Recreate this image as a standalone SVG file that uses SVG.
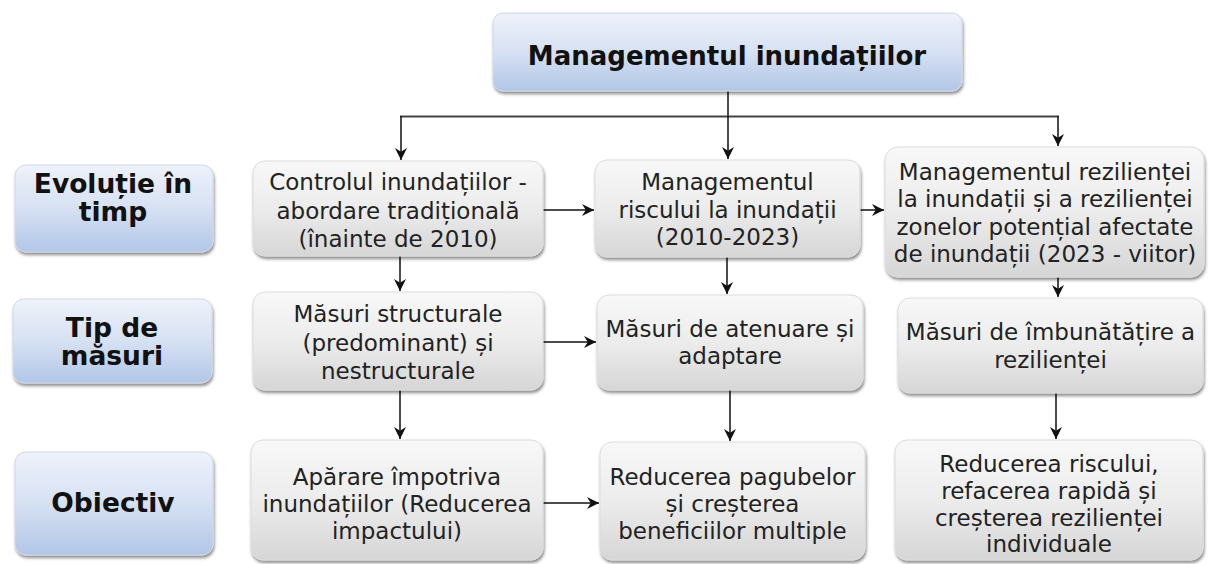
<svg xmlns="http://www.w3.org/2000/svg" width="1210" height="564" viewBox="0 0 1210 564">
<defs>
<linearGradient id="gBlue" x1="0" y1="0" x2="0" y2="1">
<stop offset="0" stop-color="#eef2fa"/>
<stop offset="0.5" stop-color="#d6e1f3"/>
<stop offset="1" stop-color="#b2c6e7"/>
</linearGradient>
<linearGradient id="gGray" x1="0" y1="0" x2="0" y2="1">
<stop offset="0" stop-color="#f8f8f8"/>
<stop offset="0.5" stop-color="#ececec"/>
<stop offset="1" stop-color="#d6d6d6"/>
</linearGradient>
<filter id="sh" x="-10%" y="-10%" width="120%" height="130%">
<feDropShadow dx="1" dy="2.5" stdDeviation="1.8" flood-color="#000" flood-opacity="0.45"/>
</filter>
<marker id="ar" markerUnits="userSpaceOnUse" markerWidth="13" markerHeight="13" refX="12" refY="6.5" orient="auto">
<path d="M0,0.5 L12,6.5 L0,12.5 L3.8,6.5 z" fill="#111"/>
</marker>
</defs>
<style>
.blue{fill:url(#gBlue);stroke:#d0d8e6;stroke-width:1;filter:url(#sh)}
.gray{fill:url(#gGray);stroke:#dcdcdc;stroke-width:1;filter:url(#sh)}
.tb{font-family:"DejaVu Sans",Verdana,sans-serif;font-weight:bold;font-size:26.5px;fill:#111;text-anchor:middle}
.tt{font-size:26px}
.t{font-family:"DejaVu Sans",Verdana,sans-serif;font-size:23px;fill:#222;text-anchor:middle}
.c{fill:none;stroke:#111;stroke-width:1.5}
.a{fill:none;stroke:#111;stroke-width:1.5;marker-end:url(#ar)}
</style>

<g id="connectors">
<path class="c" d="M728,91 V116"/>
<path d="M400,116.5 H1059" fill="none" stroke="#444" stroke-width="2.2"/>
<path class="a" d="M401,116 V160"/>
<path class="a" d="M728,116 V159"/>
<path class="a" d="M1058,116 V146"/>
<path class="a" d="M400,256 V291"/>
<path class="a" d="M400,390 V439"/>
<path class="a" d="M727,257 V294"/>
<path class="a" d="M730,390 V441"/>
<path class="a" d="M1058,277 V297"/>
<path class="a" d="M1056,393 V439"/>
<path class="a" d="M543,210 H594"/>
<path class="a" d="M860,210 H884"/>
<path class="a" d="M543,342 H596"/>
<path class="a" d="M543,503 H599"/>
</g>

<g id="title">
<rect class="blue" x="493" y="13" width="469" height="78" rx="10"/>
<text class="tb tt" x="727" y="65">Managementul inundațiilor</text>
</g>

<g id="label-evolutie">
<rect class="blue" x="15" y="165" width="198" height="87" rx="11"/>
<text class="tb" x="113" y="193">Evoluție în</text>
<text class="tb" x="113" y="221">timp</text>
</g>
<g id="label-tip">
<rect class="blue" x="13" y="299" width="199" height="84" rx="11"/>
<text class="tb" x="112" y="337">Tip de</text>
<text class="tb" x="112" y="365">măsuri</text>
</g>
<g id="label-obiectiv">
<rect class="blue" x="15" y="452" width="198" height="103" rx="11"/>
<text class="tb" x="113" y="512">Obiectiv</text>
</g>

<g id="c1r1">
<rect class="gray" x="253" y="161" width="290" height="95" rx="12"/>
<text class="t" x="398" y="190">Controlul inundațiilor -</text>
<text class="t" x="398" y="218.5">abordare tradițională</text>
<text class="t" x="398" y="247">(înainte de 2010)</text>
</g>
<g id="c1r2">
<rect class="gray" x="253" y="292" width="290" height="98" rx="12"/>
<text class="t" x="398" y="322">Măsuri structurale</text>
<text class="t" x="398" y="350.5">(predominant) și</text>
<text class="t" x="398" y="379">nestructurale</text>
</g>
<g id="c1r3">
<rect class="gray" x="251" y="440" width="292" height="120" rx="12"/>
<text class="t" x="397" y="485">Apărare împotriva</text>
<text class="t" x="397" y="512">inundațiilor (Reducerea</text>
<text class="t" x="397" y="539">impactului)</text>
</g>

<g id="c2r1">
<rect class="gray" x="595" y="160" width="265" height="97" rx="12"/>
<text class="t" x="727.5" y="190">Managementul</text>
<text class="t" x="727.5" y="217.5">riscului la inundații</text>
<text class="t" x="727.5" y="245">(2010-2023)</text>
</g>
<g id="c2r2">
<rect class="gray" x="597" y="295" width="266" height="95" rx="12"/>
<text class="t" x="730" y="337">Măsuri de atenuare și</text>
<text class="t" x="730" y="364">adaptare</text>
</g>
<g id="c2r3">
<rect class="gray" x="600" y="442" width="265" height="118" rx="12"/>
<text class="t" x="732.5" y="485">Reducerea pagubelor</text>
<text class="t" x="732.5" y="512">și creșterea</text>
<text class="t" x="732.5" y="538.5">beneficiilor multiple</text>
</g>

<g id="c3r1">
<rect class="gray" x="885" y="147" width="319" height="130" rx="13"/>
<text class="t" x="1045" y="180">Managementul rezilienței</text>
<text class="t" x="1045" y="207">la inundații și a rezilienței</text>
<text class="t" x="1045" y="234.5">zonelor potențial afectate</text>
<text class="t" x="1045" y="262">de inundații (2023 - viitor)</text>
</g>
<g id="c3r2">
<rect class="gray" x="898" y="298" width="305" height="95" rx="12"/>
<text class="t" x="1050.5" y="340">Măsuri de îmbunătățire a</text>
<text class="t" x="1050.5" y="368">rezilienței</text>
</g>
<g id="c3r3">
<rect class="gray" x="895" y="440" width="308" height="120" rx="12"/>
<text class="t" x="1049" y="472">Reducerea riscului,</text>
<text class="t" x="1049" y="498.5">refacerea rapidă și</text>
<text class="t" x="1049" y="525.5">creșterea rezilienței</text>
<text class="t" x="1049" y="552">individuale</text>
</g>
</svg>
